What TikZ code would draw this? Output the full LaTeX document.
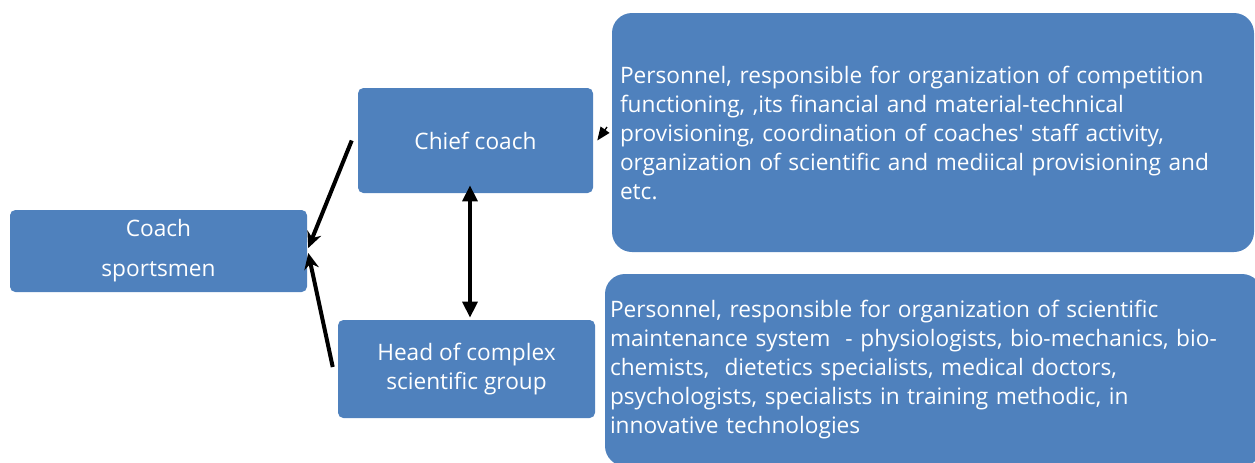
\documentclass[tikz,border=0pt]{standalone}
\usepackage{fontspec}
\setmainfont{Open Sans}[Ligatures=TeXOff]
\usepackage{xcolor}
\usepackage{tikz}
\usetikzlibrary{arrows.meta,shapes,calc}
\usetikzlibrary{positioning}
\definecolor{boxblue}{HTML}{4F81BD}

\begin{document}
\begin{tikzpicture}[x=0.75pt,y=-0.75pt]
            \tikzstyle{every node}=[fill=boxblue,text=white,font=\fontsize{17pt}{21.75pt}\selectfont];
            \tikzstyle{role}=[rectangle,rounded corners=4pt,align=center];
            \tikzstyle{info}=[rectangle,rounded corners=15pt,align=left];
            \tikzstyle{link}=[line width=3pt,-{Stealth[length=12pt,width=11pt]}];
            \tikzstyle{both}=[line width=3pt,{Triangle[length=12pt,width=11pt]}-{Triangle[length=12pt,width=11pt]}];
            \useasboundingbox (0,0) rectangle (1255,462);
            \clip (0,0) rectangle (1255,462);
            \node[role,minimum width=222.75pt,minimum height=61.5pt,font=\fontsize{17pt}{30pt}\selectfont] (coach) at (158.5,251) {Coach\\sportsmen};
            \node[role,minimum width=176.25pt,minimum height=78.75pt] (chief) at (475.5,140.5) {Chief coach};
            \node[role,minimum width=192.75pt,minimum height=73.5pt] (head) at (466.5,369) {Head of complex\\scientific group};
            \node[info,minimum width=481.5pt,minimum height=179.25pt,inner xsep=6pt,text width=469.5pt] (staff) at (933,132.5)
                {Personnel, responsible for organization of competition\\
                 functioning, ,its financial and material-technical\\
                 provisioning, coordination of coaches' staff activity,\\
                 organization of scientific and mediical provisioning and\\
                 etc.};
            \node[info,minimum width=492.75pt,minimum height=144pt,inner xsep=3.75pt,text width=485.25pt] (science) at (933.5,370)
                {Personnel, responsible for organization of scientific\\
                 maintenance system\ \ - physiologists, bio-mechanics, bio-\\
                 chemists,\ \ dietetics specialists, medical doctors,\\
                 psychologists, specialists in training methodic, in\\
                 innovative technologies};
            \coordinate (tipstart) at (607,127);
            \path[draw] [link] ($(chief.west)+(-6,0)$) -- ($(coach.east)+(1,-3)$);
            \path[draw] [link] ($(head.west)+(-5,-2)$) -- ($(coach.east)+(1,2)$);
            \path[draw] [both] ($(chief.south)+(-5.5,-8)$) -- ($(head.north)+(3.5,-2)$);
            \path[draw] [line width=1pt,-{Triangle[length=10pt,width=8pt]}] (tipstart) -- ($(chief.east)+(4,0)$);
        \end{tikzpicture}
\end{document}
